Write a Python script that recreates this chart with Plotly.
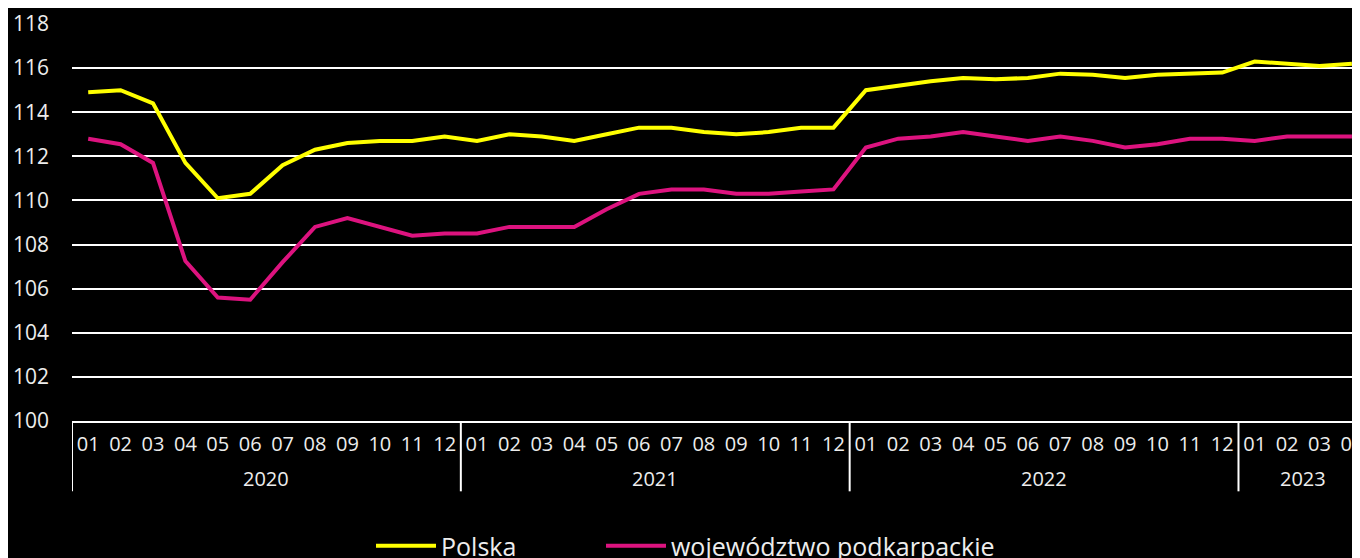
import plotly.graph_objects as go

# ---- data ----
MONTHS = ["01", "02", "03", "04", "05", "06", "07", "08", "09", "10", "11", "12"]
years = ["2020"] * 12 + ["2021"] * 12 + ["2022"] * 12 + ["2023"] * 4
months = MONTHS * 3 + MONTHS[:4]
year_labels = ["2020", "2021", "2022", "2023"]

polska = [114.9, 115.0, 114.4, 111.7, 110.1, 110.3, 111.6, 112.3, 112.6, 112.7, 112.7, 112.9,
          112.7, 113.0, 112.9, 112.7, 113.0, 113.3, 113.3, 113.1, 113.0, 113.1, 113.3, 113.3,
          115.0, 115.2, 115.4, 115.55, 115.5, 115.55, 115.75, 115.7, 115.55, 115.7, 115.75, 115.8,
          116.3, 116.2, 116.1, 116.2]

podkarpackie = [112.8, 112.55, 111.7, 107.25, 105.6, 105.5, 107.2, 108.8, 109.2, 108.8, 108.4, 108.5,
                108.5, 108.8, 108.8, 108.8, 109.6, 110.3, 110.5, 110.5, 110.3, 110.3, 110.4, 110.5,
                112.4, 112.8, 112.9, 113.1, 112.9, 112.7, 112.9, 112.7, 112.4, 112.55, 112.8, 112.8,
                112.7, 112.9, 112.9, 112.9]

series_names = ["Polska", "województwo podkarpackie"]
series_colors = ["#FFFF00", "#DD137F"]

TEXT = "#EDEDED"
FONT = "Open Sans"

# figure is placed 8px into the page by the browser's default body margin
W, H = 1352, 550
ML, MT, MB = 64, 15.5, 136.5
PLOT_W = W - ML
PLOT_H = H - MT - MB

idx = list(range(len(months)))

fig = go.Figure()
legend_ids = ["legend", "legend2"]
for name, vals, col, lg in zip(series_names, [polska, podkarpackie], series_colors, legend_ids):
    fig.add_trace(go.Scatter(
        x=idx, y=vals, name=name, mode="lines", legend=lg,
        customdata=[f"{y}-{m}" for y, m in zip(years, months)],
        line=dict(color=col, width=4),
        hovertemplate="%{customdata}: %{y}<extra>%{fullData.name}</extra>",
    ))

# year group labels and dividers of the two-level category axis
for yr in year_labels:
    members = [i for i, y in enumerate(years) if y == yr]
    first, last = members[0], members[-1]
    fig.add_annotation(
        x=(first + last) / 2, xref="x", y=-57.5 / PLOT_H, yref="paper",
        text=yr, showarrow=False, yanchor="middle",
        font=dict(family=FONT, size=20, color=TEXT),
    )
    fig.add_shape(
        type="line", xref="x", yref="paper",
        x0=first - 0.5, x1=first - 0.5, y0=0, y1=-70.5 / PLOT_H,
        line=dict(color="white", width=2),
    )

legend_common = dict(
    orientation="h", xanchor="left", y=-0.315, yanchor="middle",
    itemwidth=60,
    font=dict(family=FONT, size=25, color=TEXT),
    bgcolor="rgba(0,0,0,0)",
)

fig.update_layout(
    width=W, height=H,
    paper_bgcolor="black", plot_bgcolor="black",
    margin=dict(l=ML, r=0, t=MT, b=MB, autoexpand=False),
    font=dict(family=FONT, color=TEXT, size=20),
    showlegend=True,
    legend=dict(x=(363 - ML) / PLOT_W, **legend_common),
    legend2=dict(x=(593 - ML) / PLOT_W, **legend_common),
    xaxis=dict(
        range=[-0.5, 39.25],
        tickmode="array", tickvals=idx, ticktext=months, tickangle=0,
        ticklabeloverflow="allow",
        showgrid=False,
        showline=True, linecolor="white", linewidth=2,
        ticks="", ticklabelstandoff=4,
        tickfont=dict(family=FONT, size=20, color=TEXT),
        zeroline=False,
    ),
    yaxis=dict(
        range=[100, 118], dtick=2, tick0=100,
        showgrid=True, gridcolor="white", gridwidth=2,
        showline=False, zeroline=False,
        ticklabelstandoff=22,
        tickfont=dict(family=FONT, size=21, color=TEXT),
    ),
)

fig.write_html("out.html")
